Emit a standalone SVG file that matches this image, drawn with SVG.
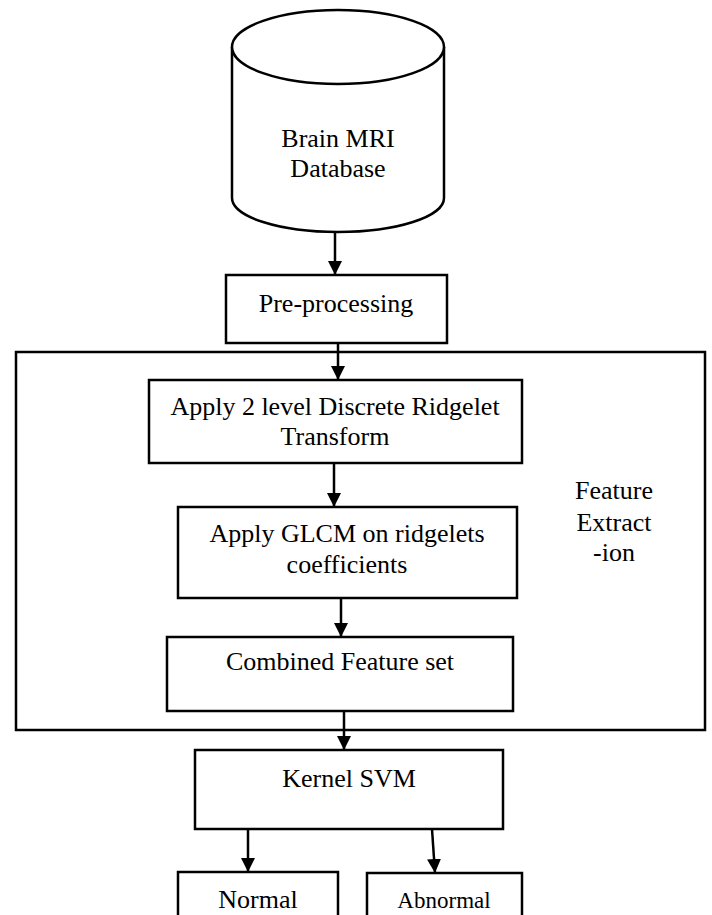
<svg xmlns="http://www.w3.org/2000/svg" width="712" height="915" viewBox="0 0 712 915">
<style>
.b{fill:#fff;stroke:#000;stroke-width:2.5}
.f{fill:none;stroke:#000;stroke-width:2.5}
text{font-family:"Liberation Serif","Times New Roman",serif;font-size:26px;fill:#000;text-anchor:middle}
.c{stroke:#000;stroke-width:2.5;fill:none;marker-end:url(#ah)}
</style>
<defs>
<marker id="ah" markerUnits="userSpaceOnUse" markerWidth="15" markerHeight="15" refX="14" refY="7" orient="auto">
<path d="M0,0 L14,7 L0,14 z" fill="#000"/>
</marker>
</defs>
<rect width="712" height="915" fill="#fff"/>
<g id="feature-extraction">
<rect class="f" x="16" y="352" width="689" height="378"/>
<text x="614" y="499">Feature</text>
<text x="614" y="531">Extract</text>
<text x="614" y="561">-ion</text>
</g>
<g id="database">
<path class="b" d="M232,47 L232,198 A106,34 0 0 0 444,198 L444,47"/>
<ellipse class="b" cx="338" cy="47" rx="106" ry="37"/>
<text x="338" y="147">Brain MRI</text>
<text x="338" y="177">Database</text>
</g>
<g id="preprocessing">
<rect class="b" x="226" y="275" width="221" height="68"/>
<text x="336" y="312">Pre-processing</text>
</g>
<g id="ridgelet">
<rect class="b" x="149" y="380" width="373" height="83"/>
<text x="335" y="415">Apply 2 level Discrete Ridgelet</text>
<text x="335" y="445">Transform</text>
</g>
<g id="glcm">
<rect class="b" x="178" y="507" width="339" height="91"/>
<text x="347" y="542">Apply GLCM on ridgelets</text>
<text x="347" y="573">coefficients</text>
</g>
<g id="combined">
<rect class="b" x="167" y="637" width="346" height="74"/>
<text x="340" y="670">Combined Feature set</text>
</g>
<g id="svm">
<rect class="b" x="195" y="750" width="308" height="79"/>
<text x="349" y="787">Kernel SVM</text>
</g>
<g id="normal">
<rect class="b" x="178" y="872" width="160" height="60"/>
<text x="258" y="908">Normal</text>
</g>
<g id="abnormal">
<rect class="b" x="367" y="873" width="155" height="60"/>
<text x="444" y="908" style="font-size:23px">Abnormal</text>
</g>
<g id="connectors">
<path class="c" d="M335,232 L335,275"/>
<path class="c" d="M338,343 L338,380"/>
<path class="c" d="M334,463 L334,507"/>
<path class="c" d="M341,598 L341,637"/>
<path class="c" d="M344,711 L344,750"/>
<path class="c" d="M248,829 L248,872"/>
<path class="c" d="M432,829 L435,873"/>
</g>
</svg>
